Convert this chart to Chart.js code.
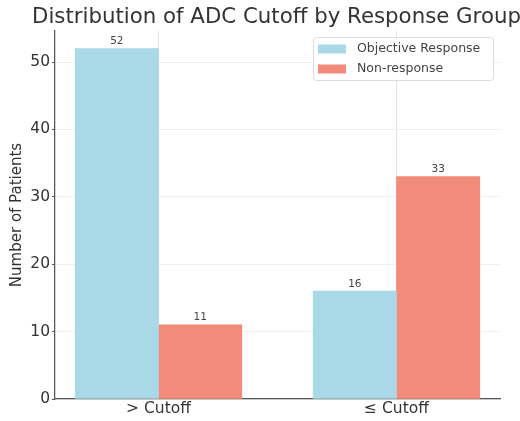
<!DOCTYPE html>
<html>
<head>
<meta charset="utf-8">
<script src="https://cdn.jsdelivr.net/npm/chart.js@4.4.1/dist/chart.umd.min.js"></script>
<style>
  html, body { margin: 0; padding: 0; background: #fff; }
</style>
</head>
<body>
<canvas id="adcChart" width="520" height="421"></canvas>
<script>
// data
const chartTitle = "Distribution of ADC Cutoff by Response Group";
const categories = ["> Cutoff", "\u2264 Cutoff"];
const seriesNames = ["Objective Response", "Non-response"];
const objectiveResponse = [52, 16];
const nonResponse = [11, 33];
const yTicks = [0, 10, 20, 30, 40, 50];

const seriesColors = ["#a9d8e7", "#f38b7a"];
const FONT = "'DejaVu Sans', sans-serif";
const halfBar = 0.175; // bars are 0.35 wide, side by side around each category

// grouped bars on a numeric x axis so the category centres sit where matplotlib put them
const toPoints = (values, shift) => values.map((v, i) => ({ x: i + shift, y: v }));

// the title is wider than the plot area, so draw it centred over the axes without squeezing
const axesTitle = {
    id: "axesTitle",
    afterDraw(chart) {
        const { ctx, chartArea } = chart;
        ctx.save();
        ctx.font = "21.3px " + FONT;
        ctx.fillStyle = "#333";
        ctx.textAlign = "center";
        ctx.textBaseline = "alphabetic";
        ctx.fillText(chartTitle, (chartArea.left + chartArea.right) / 2 - 1, 23);
        ctx.restore();
    },
};

const valueLabels = {
    id: "valueLabels",
    afterDatasetsDraw(chart) {
        const ctx = chart.ctx;
        ctx.save();
        ctx.font = "10.5px " + FONT;
        ctx.fillStyle = "#444";
        ctx.textAlign = "center";
        ctx.textBaseline = "alphabetic";
        chart.data.datasets.forEach((ds, di) => {
            chart.getDatasetMeta(di).data.forEach((bar, i) => {
                ctx.fillText(String(ds.data[i].y), bar.x, bar.y - 4.5);
            });
        });
        ctx.restore();
    },
};

const boxLegend = {
    id: "boxLegend",
    afterDraw(chart) {
        const { ctx, chartArea } = chart;
        const w = 180, h = 43;
        const x = chartArea.right - 7 - w;
        const y = chartArea.top + 6;
        ctx.save();
        ctx.beginPath();
        ctx.roundRect(x + 0.5, y + 0.5, w, h, 3);
        ctx.fillStyle = "rgba(255,255,255,0.9)";
        ctx.fill();
        ctx.strokeStyle = "#dcdcdc";
        ctx.lineWidth = 1;
        ctx.stroke();
        ctx.font = "12.5px " + FONT;
        ctx.textBaseline = "middle";
        chart.data.datasets.forEach((ds, di) => {
            const cy = y + 12 + di * 20;
            ctx.fillStyle = ds.backgroundColor;
            ctx.fillRect(x + 5, cy - 4.5, 28, 9);
            ctx.fillStyle = "#444";
            ctx.fillText(ds.label, x + 44, cy);
        });
        ctx.restore();
    },
};

new Chart(document.getElementById("adcChart"), {
    type: "bar",
    data: {
        datasets: [
            {
                label: seriesNames[0],
                data: toPoints(objectiveResponse, -halfBar),
                backgroundColor: seriesColors[0],
            },
            {
                label: seriesNames[1],
                data: toPoints(nonResponse, halfBar),
                backgroundColor: seriesColors[1],
            },
        ],
    },
    options: {
        responsive: false,
        animation: false,
        grouped: false,
        barPercentage: 1,
        categoryPercentage: 1,
        layout: { padding: { left: 0, right: 20, top: 31, bottom: 0 } },
        plugins: {
            legend: { display: false },
            tooltip: { enabled: false },
            title: { display: false },
        },
        scales: {
            x: {
                type: "linear",
                offset: false,
                min: -0.435,
                max: 1.435,
                afterBuildTicks: (axis) => {
                    axis.ticks = categories.map((_, i) => ({ value: i }));
                },
                afterFit: (axis) => { axis.height = 22; },
                ticks: {
                    callback: (v) => categories[v],
                    color: "#333",
                    font: { family: FONT, size: 15.5 },
                    padding: 1,
                    maxRotation: 0,
                },
                grid: { color: "#e4e4e4", drawTicks: false, offset: false },
                border: { color: "#555", width: 1.25 },
            },
            y: {
                min: 0,
                max: 54.6,
                afterBuildTicks: (axis) => {
                    axis.ticks = yTicks.map((v) => ({ value: v }));
                },
                afterFit: (axis) => { axis.width = 55; },
                ticks: {
                    color: "#333",
                    font: { family: FONT, size: 15.5 },
                    padding: 2,
                },
                grid: { color: "#f1f1f1", tickColor: "#555", tickLength: 3 },
                border: { color: "#555", width: 1.25 },
                title: {
                    display: true,
                    text: "Number of Patients",
                    color: "#333",
                    font: { family: FONT, size: 15 },
                    padding: { top: 8, bottom: 0 },
                },
            },
        },
    },
    plugins: [valueLabels, boxLegend, axesTitle],
});
</script>
</body>
</html>
